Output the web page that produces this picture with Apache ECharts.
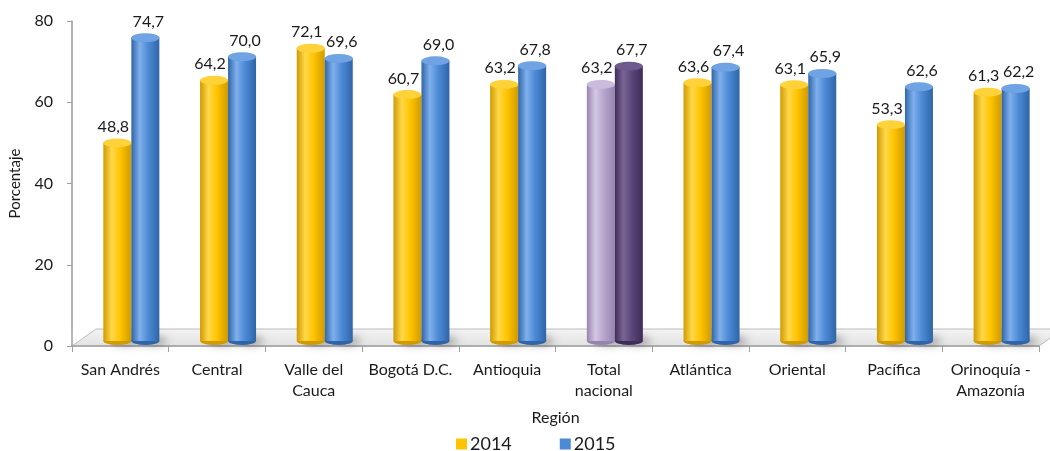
<!DOCTYPE html>
<html>
<head>
<meta charset="utf-8">
<script src="https://cdn.jsdelivr.net/npm/echarts@6/dist/echarts.min.js"></script>
<style>
  html, body { margin: 0; padding: 0; background: #fff; }
  #chart { width: 1050px; height: 451px; }
</style>
</head>
<body>
<div id="chart"></div>
<script>
// Participación por región, 2014 y 2015
const regions = ['San Andrés', 'Central', 'Valle del\nCauca', 'Bogotá D.C.', 'Antioquia',
  'Total\nnacional', 'Atlántica', 'Oriental', 'Pacífica', 'Orinoquía -\nAmazonía'];
const values2014 = [48.8, 64.2, 72.1, 60.7, 63.2, 63.2, 63.6, 63.1, 53.3, 61.3];
const values2015 = [74.7, 70.0, 69.6, 69.0, 67.8, 67.7, 67.4, 65.9, 62.6, 62.2];
const seriesNames = ['2014', '2015'];
const yTicks = { min: 0, max: 80, interval: 20 };
const totalIndex = 5;

const FONT = 'Lato, "Noto Sans", sans-serif';
const BAR_W = 28;

// horizontal gradient giving each bar a rounded, cylinder-like shading
function cyl(dark, light, mid) {
  return new echarts.graphic.LinearGradient(0, 0, 1, 0, [
    { offset: 0, color: dark },
    { offset: 0.3, color: light },
    { offset: 0.6, color: mid },
    { offset: 1, color: dark }
  ]);
}
const palettes = {
  '2014': { dark: '#D09A00', light: '#FFD84A', mid: '#FFC400', cap: '#FFD23A' },
  '2015': { dark: '#2F65A8', light: '#7FB0EC', mid: '#4D8AD6', cap: '#6FA3E3' },
  'total2014': { dark: '#9684B0', light: '#D3C7E3', mid: '#B6A6CC', cap: '#C9BCDC' },
  'total2015': { dark: '#3E2C58', light: '#7A6596', mid: '#5B4679', cap: '#6E5A8C' }
};

function fmt(v) { return v.toFixed(1).replace('.', ','); }

function barData(vals, key) {
  return vals.map((v, i) => {
    const p = i === totalIndex ? palettes['total' + key] : palettes[key];
    return { value: v, itemStyle: { color: cyl(p.dark, p.light, p.mid) } };
  });
}
function capData(vals, key) {
  return vals.map((v, i) => {
    const p = i === totalIndex ? palettes['total' + key] : palettes[key];
    return { value: v, itemStyle: { color: p.cap, borderColor: p.dark, borderWidth: 0.6 } };
  });
}
function baseData(vals, key) {
  return vals.map((v, i) => {
    const p = i === totalIndex ? palettes['total' + key] : palettes[key];
    return { value: v, itemStyle: { color: p.dark } };
  });
}

const series = [];
[values2014, values2015].forEach((vals, k) => {
  const key = seriesNames[k];
  const pal = palettes[key];
  const off = k === 0 ? -BAR_W / 2 : BAR_W / 2;
  series.push({
    name: key, type: 'bar', xAxisIndex: 1, yAxisIndex: 1,
    barWidth: BAR_W, barGap: '0%', z: 3,
    itemStyle: { color: pal.mid },
    data: barData(vals, key),
    label: {
      show: true, position: 'top', distance: 8,
      offset: [k === 0 ? -4 : 3, 0],
      fontFamily: FONT, fontSize: 16, color: '#1a1a1a',
      formatter: p => fmt(p.value)
    }
  });
  // bottom ellipse with soft floor shadow
  series.push({
    name: 'base' + key, type: 'pictorialBar', xAxisIndex: 1, yAxisIndex: 1,
    symbol: 'circle', symbolSize: [BAR_W, 8], symbolOffset: [off, '50%'],
    symbolPosition: 'start', z: 2,
    itemStyle: { shadowBlur: 8, shadowColor: 'rgba(0,0,0,0.35)', shadowOffsetX: 8, shadowOffsetY: 0 },
    data: baseData(vals, key)
  });
  // top ellipse
  series.push({
    name: 'cap' + key, type: 'pictorialBar', xAxisIndex: 1, yAxisIndex: 1,
    symbol: 'circle', symbolSize: [BAR_W, 9], symbolOffset: [off, '-50%'],
    symbolPosition: 'end', z: 4,
    data: capData(vals, key)
  });
});

const legendIcon = 'path://M0,0 L12,0 L12,12 L0,12 Z';

const chart = echarts.init(document.getElementById('chart'), null, { renderer: 'canvas' });
chart.setOption({
  backgroundColor: '#fff',
  animation: false,
  grid: [
    { left: 72, right: 11, top: 21, bottom: 105 },
    { left: 83, right: 0, top: 16, bottom: 110 }
  ],
  xAxis: [
    {
      type: 'category', gridIndex: 0, data: regions,
      name: 'Región', nameLocation: 'middle', nameGap: 64,
      nameTextStyle: { fontFamily: FONT, fontSize: 16, color: '#1a1a1a' },
      axisLine: { lineStyle: { color: '#A0A0A0', width: 1.5 } },
      axisTick: { show: true, alignWithLabel: false, length: 6, lineStyle: { color: '#A0A0A0' } },
      axisLabel: { fontFamily: FONT, fontSize: 16, color: '#1a1a1a', margin: 13, lineHeight: 21, interval: 0 },
      splitLine: { show: false }
    },
    {
      type: 'category', gridIndex: 1, data: regions, show: false
    }
  ],
  yAxis: [
    {
      type: 'value', gridIndex: 0, min: yTicks.min, max: yTicks.max, interval: yTicks.interval,
      name: 'Porcentaje', nameLocation: 'middle', nameGap: 49,
      nameTextStyle: { fontFamily: FONT, fontSize: 15, color: '#1a1a1a' },
      axisLine: { show: true, lineStyle: { color: '#A0A0A0', width: 1.5 } },
      axisTick: { show: true, length: 5, lineStyle: { color: '#A0A0A0' } },
      axisLabel: { fontFamily: FONT, fontSize: 16, color: '#1a1a1a', margin: 19 },
      splitLine: { show: false }
    },
    {
      type: 'value', gridIndex: 1, min: yTicks.min, max: yTicks.max, show: false
    }
  ],
  legend: {
    data: seriesNames.map(n => ({ name: n, icon: legendIcon, itemStyle: { color: palettes[n].mid } })),
    top: 430, left: 451, itemWidth: 11, itemHeight: 12, itemGap: 48,
    textStyle: { fontFamily: FONT, fontSize: 18, color: '#1a1a1a', padding: [0, 0, 0, -2] }
  },
  series: series
});

// floor of the 3D plot area, drawn from the first grid's rectangle
const rect = chart.getModel().getComponent('grid', 0).coordinateSystem.getRect();
const dx = 24, dy = -17;
const x0 = rect.x, x1 = rect.x + rect.width, y0 = rect.y + rect.height;
chart.setOption({
  graphic: [
    {
      type: 'polygon', z: 0,
      shape: { points: [[x0, y0], [x1, y0], [x1 + dx, y0 + dy], [x0 + dx, y0 + dy]] },
      style: {
        fill: new echarts.graphic.LinearGradient(0, 0, 0, 1, [
          { offset: 0, color: '#F4F4F4' }, { offset: 1, color: '#E2E2E2' }
        ]),
        stroke: '#BDBDBD', lineWidth: 1
      }
    },
    {
      type: 'line', z: 0,
      shape: { x1: x0, y1: y0 + dy + 2, x2: x0, y2: rect.y },
      style: { stroke: '#D6D6D6', lineWidth: 1 }
    }
  ]
});
</script>
</body>
</html>
